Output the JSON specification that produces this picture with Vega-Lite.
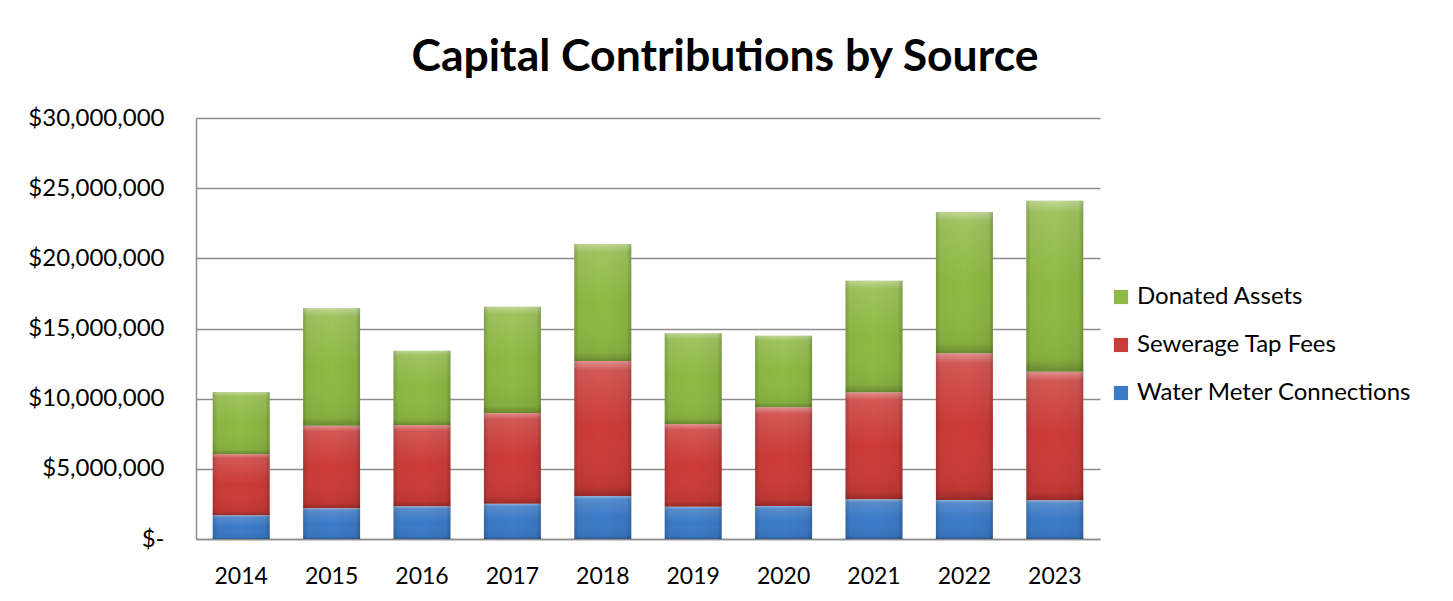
{
  "$schema": "https://vega.github.io/schema/vega-lite/v6.json",
  "width": 904,
  "height": 421,
  "autosize": "none",
  "padding": {"left": 196, "top": 118, "right": 353, "bottom": 62},
  "background": "white",
  "title": {
    "text": "Capital Contributions by Source",
    "font": "Lato",
    "fontSize": 44.5,
    "fontWeight": "bold",
    "color": "#000000",
    "anchor": "middle",
    "frame": "group",
    "dx": 77,
    "offset": 26
  },
  "data": {
    "values": [
      {"year": "2014", "source": "Water Meter Connections", "value": 1690000},
      {"year": "2014", "source": "Sewerage Tap Fees", "value": 4370000},
      {"year": "2014", "source": "Donated Assets", "value": 4410000},
      {"year": "2015", "source": "Water Meter Connections", "value": 2190000},
      {"year": "2015", "source": "Sewerage Tap Fees", "value": 5880000},
      {"year": "2015", "source": "Donated Assets", "value": 8370000},
      {"year": "2016", "source": "Water Meter Connections", "value": 2330000},
      {"year": "2016", "source": "Sewerage Tap Fees", "value": 5790000},
      {"year": "2016", "source": "Donated Assets", "value": 5300000},
      {"year": "2017", "source": "Water Meter Connections", "value": 2520000},
      {"year": "2017", "source": "Sewerage Tap Fees", "value": 6460000},
      {"year": "2017", "source": "Donated Assets", "value": 7570000},
      {"year": "2018", "source": "Water Meter Connections", "value": 3060000},
      {"year": "2018", "source": "Sewerage Tap Fees", "value": 9620000},
      {"year": "2018", "source": "Donated Assets", "value": 8340000},
      {"year": "2019", "source": "Water Meter Connections", "value": 2300000},
      {"year": "2019", "source": "Sewerage Tap Fees", "value": 5890000},
      {"year": "2019", "source": "Donated Assets", "value": 6470000},
      {"year": "2020", "source": "Water Meter Connections", "value": 2350000},
      {"year": "2020", "source": "Sewerage Tap Fees", "value": 7030000},
      {"year": "2020", "source": "Donated Assets", "value": 5110000},
      {"year": "2021", "source": "Water Meter Connections", "value": 2830000},
      {"year": "2021", "source": "Sewerage Tap Fees", "value": 7620000},
      {"year": "2021", "source": "Donated Assets", "value": 7960000},
      {"year": "2022", "source": "Water Meter Connections", "value": 2780000},
      {"year": "2022", "source": "Sewerage Tap Fees", "value": 10450000},
      {"year": "2022", "source": "Donated Assets", "value": 10070000},
      {"year": "2023", "source": "Water Meter Connections", "value": 2760000},
      {"year": "2023", "source": "Sewerage Tap Fees", "value": 9160000},
      {"year": "2023", "source": "Donated Assets", "value": 12190000}
    ]
  },
  "encoding": {
    "x": {
      "field": "year",
      "type": "nominal",
      "title": null,
      "scale": {"paddingInner": 0.37, "paddingOuter": 0.185},
      "axis": {
        "labelAngle": 0,
        "labelFont": "Lato",
        "labelFontSize": 23,
        "labelColor": "#000000",
        "labelPadding": 26,
        "ticks": false,
        "domainColor": "#8c8c8c",
        "domainWidth": 1.5
      }
    },
    "y": {
      "field": "value",
      "type": "quantitative",
      "stack": "zero",
      "title": null,
      "scale": {"domain": [0, 30000000], "nice": false},
      "axis": {
        "values": [0, 5000000, 10000000, 15000000, 20000000, 25000000, 30000000],
        "labelExpr": "datum.value == 0 ? '$-\u00a0\u00a0\u00a0' : '$' + format(datum.value, ',')",
        "labelFont": "Lato",
        "labelFontSize": 24,
        "labelColor": "#000000",
        "labelPadding": 32,
        "ticks": false,
        "domainColor": "#8c8c8c",
        "domainWidth": 1.5,
        "grid": true,
        "gridColor": "#8c8c8c",
        "gridWidth": 1.5
      }
    },
    "order": {"field": "source", "sort": "descending"}
  },
  "layer": [
    {
      "mark": {"type": "bar"},
      "encoding": {
        "color": {
          "field": "source",
          "type": "nominal",
          "scale": {
            "domain": ["Donated Assets", "Sewerage Tap Fees", "Water Meter Connections"],
            "range": ["#8fba43", "#cd3b38", "#3b7bc8"]
          },
          "legend": {
            "title": null,
            "orient": "none",
            "legendX": 913,
            "legendY": 167,
            "symbolType": "square",
            "symbolSize": 200,
            "symbolStrokeWidth": 0,
            "symbolOpacity": 1,
            "labelFont": "Lato",
            "labelFontSize": 24,
            "labelColor": "#000000",
            "labelOffset": 4,
            "rowPadding": 24,
            "labelLimit": 400
          }
        }
      }
    },
    {
      "mark": {
        "type": "bar",
        "fill": {
          "gradient": "linear",
          "x1": 0, "y1": 0, "x2": 0, "y2": 1,
          "stops": [
            {"offset": 0, "color": "rgba(255,255,255,0.45)"},
            {"offset": 0.07, "color": "rgba(255,255,255,0.15)"},
            {"offset": 0.5, "color": "rgba(255,255,255,0)"},
            {"offset": 0.93, "color": "rgba(0,0,0,0.06)"},
            {"offset": 1, "color": "rgba(0,0,0,0.25)"}
          ]
        }
      },
      "encoding": {"detail": {"field": "source"}}
    },
    {
      "mark": {
        "type": "bar",
        "fill": {
          "gradient": "linear",
          "x1": 0, "y1": 0, "x2": 1, "y2": 0,
          "stops": [
            {"offset": 0, "color": "rgba(0,0,0,0.18)"},
            {"offset": 0.08, "color": "rgba(0,0,0,0.03)"},
            {"offset": 0.5, "color": "rgba(0,0,0,0)"},
            {"offset": 0.92, "color": "rgba(0,0,0,0.05)"},
            {"offset": 1, "color": "rgba(0,0,0,0.22)"}
          ]
        }
      },
      "encoding": {"detail": {"field": "source"}}
    }
  ],
  "config": {
    "view": {"stroke": null}
  }
}
